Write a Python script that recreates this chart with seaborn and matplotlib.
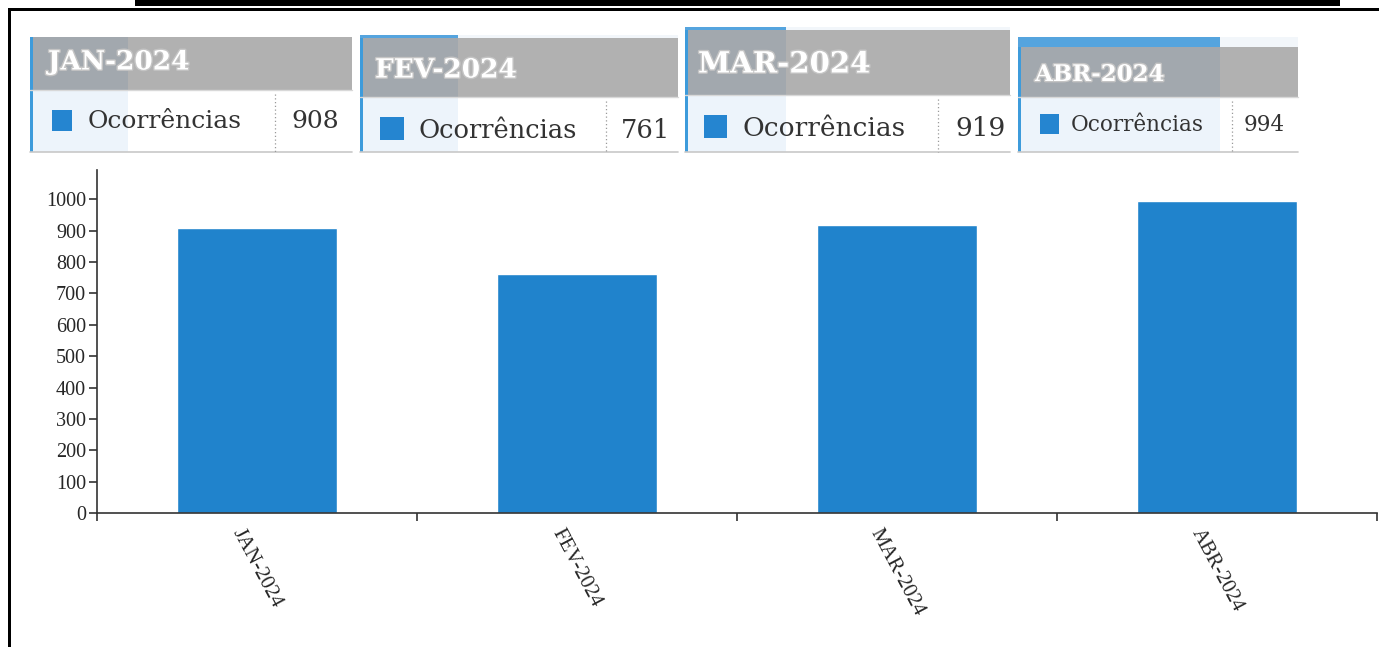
import matplotlib
matplotlib.use("Agg")
import matplotlib.pyplot as plt
import seaborn as sns
from matplotlib.patches import Rectangle
from matplotlib.lines import Line2D
import matplotlib.patheffects as pe

months = ["JAN-2024", "FEV-2024", "MAR-2024", "ABR-2024"]
ocorrencias = [908, 761, 919, 994]
serie = "Ocorrências"
yticks = list(range(0, 1001, 100))

W, H = 1379, 647
BLUE = "#2083cc"

sns.set_style("white")
plt.rcParams["font.family"] = ["Liberation Serif", "DejaVu Serif"]

fig = plt.figure(figsize=(W / 100, H / 100), dpi=100)


def fx(x):
    return x / W


def fy(y):
    return 1 - y / H


def rect(x0, y0, x1, y1, color, z=1):
    fig.add_artist(Rectangle((fx(x0), fy(y1)), (x1 - x0) / W, (y1 - y0) / H,
                             transform=fig.transFigure, facecolor=color,
                             edgecolor="none", zorder=z))


def hline(x0, x1, y, color, lw=1, ls="-", z=3):
    fig.add_artist(Line2D([fx(x0), fx(x1)], [fy(y), fy(y)], transform=fig.transFigure,
                          color=color, lw=lw, ls=ls, zorder=z))


def vline(x, y0, y1, color, lw=1, ls="-", z=3):
    fig.add_artist(Line2D([fx(x), fx(x)], [fy(y0), fy(y1)], transform=fig.transFigure,
                          color=color, lw=lw, ls=ls, zorder=z))


# frame and cut-off title band
rect(135, 0, 1340, 6, "black", z=5)
rect(8, 8, W, 11, "black", z=5)
rect(8, 8, 11, H, "black", z=5)

# tooltip cards (pixel layout)
cards = [
    dict(x0=30, x1=352, top=37, mid=90, bot=152, ov=128, stripe=None,
         hx=48, hy=62, hfs=19, sq=(52, 110, 72, 131), tx=88, ty=121, bfs=18,
         sep=275, vx=291),
    dict(x0=360, x1=678, top=38, mid=97, bot=152, ov=458, stripe=(35, 38),
         hx=375, hy=70, hfs=19, sq=(380, 117, 404, 140), tx=418, ty=130, bfs=18.5,
         sep=606, vx=621),
    dict(x0=685, x1=1010, top=30, mid=95, bot=152, ov=786, stripe=(27, 30),
         hx=698, hy=64, hfs=21, sq=(704, 115, 727, 138), tx=743, ty=128, bfs=19,
         sep=938, vx=955),
    dict(x0=1018, x1=1298, top=47, mid=97, bot=152, ov=1220, stripe=(37, 47),
         hx=1035, hy=75, hfs=16.5, sq=(1040, 114, 1059, 134), tx=1071, ty=125, bfs=15.5,
         sep=1232, vx=1244),
]

for c, m, v in zip(cards, months, ocorrencias):
    rect(c["x0"], c["top"], c["x1"], c["mid"], "#b1b1b1", z=2)
    rect(c["x0"], c["top"], c["ov"], c["mid"], "#a2a8ae", z=2)
    rect(c["x0"], c["mid"], c["x1"], c["bot"], "white", z=2)
    rect(c["x0"], c["mid"], c["ov"], c["bot"], "#edf4fb", z=2)
    rect(c["x0"], c["top"], c["x0"] + 3, c["bot"], "#3d9bdb", z=3)
    if c["stripe"]:
        rect(c["x0"], c["stripe"][0], c["ov"], c["stripe"][1], "#55a4de", z=3)
        rect(c["ov"], c["stripe"][0], c["x1"], c["stripe"][1], "#f2f6fa", z=2)
    hline(c["x0"], c["x1"], c["mid"], "#d8d8d8", lw=1)
    hline(c["x0"], c["x1"], c["bot"], "#c8c8c8", lw=1.2)
    vline(c["sep"], c["mid"] + 4, c["bot"], "#999999", lw=0.9, ls=(0, (1, 2)))
    s = c["sq"]
    rect(s[0], s[1], s[2], s[3], "#2585d0", z=4)
    fig.text(fx(c["hx"]), fy(c["hy"]), m, color="white", fontsize=c["hfs"],
             fontweight="bold", family="DejaVu Serif", ha="left", va="center", zorder=6,
             path_effects=[pe.withStroke(linewidth=2, foreground="#c4c4c4")])
    fig.text(fx(c["tx"]), fy(c["ty"]), serie, color="#333333", fontsize=c["bfs"],
             family="DejaVu Serif", ha="left", va="center", zorder=6)
    fig.text(fx(c["vx"]), fy(c["ty"]), str(v), color="#333333", fontsize=c["bfs"],
             family="DejaVu Serif", ha="left", va="center", zorder=6)

# bar chart
ax = fig.add_axes([fx(97), fy(513), (1377 - 97) / W, (513 - 170) / H])
sns.barplot(x=months, y=ocorrencias, color=BLUE, saturation=1, width=0.5, ax=ax)
ax.set_ylim(0, max(ocorrencias) * 1.1)
ax.set_xlim(-0.5, len(months) - 0.5)
ax.set_yticks(yticks)
ax.set_yticklabels([str(t) for t in yticks], fontsize=14.5, family="Liberation Serif")
ax.set_xticks([i - 0.5 for i in range(len(months) + 1)])
ax.set_xticklabels([])
ax.set_xticks(range(len(months)), minor=True)
ax.set_xticklabels(months, minor=True, rotation=-62, fontsize=15, family="Liberation Serif")
ax.tick_params(axis="x", which="minor", length=0, pad=9)
ax.tick_params(axis="both", which="major", length=6, width=1.2, color="#333333",
               direction="out", left=True, bottom=True)
ax.tick_params(axis="y", pad=2)
for side in ["top", "right"]:
    ax.spines[side].set_visible(False)
for side in ["left", "bottom"]:
    ax.spines[side].set_color("#333333")
    ax.spines[side].set_linewidth(1.2)
ax.set_facecolor("none")

plt.savefig("out.png", dpi=100)
